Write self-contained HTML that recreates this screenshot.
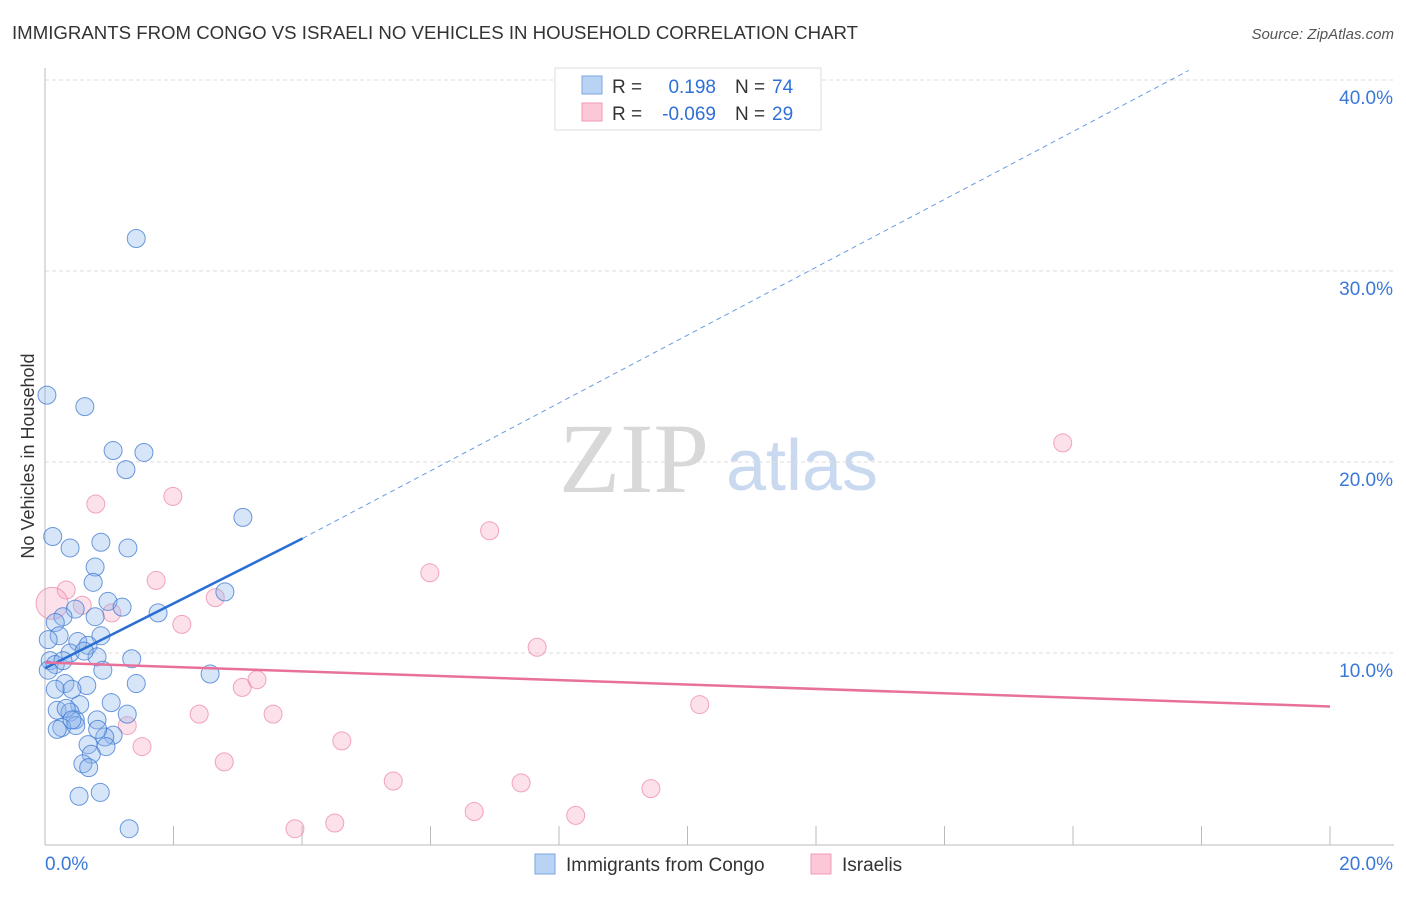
<!DOCTYPE html>
<html><head><meta charset="utf-8"><style>
body{margin:0;background:#fff;font-family:"Liberation Sans",sans-serif;}
</style></head><body>
<svg id="chart" width="1406" height="892" xmlns="http://www.w3.org/2000/svg" style="font-family:'Liberation Sans',sans-serif">
<text x="12" y="39" font-size="18" fill="#333" textLength="846" lengthAdjust="spacingAndGlyphs">IMMIGRANTS FROM CONGO VS ISRAELI NO VEHICLES IN HOUSEHOLD CORRELATION CHART</text>
<text x="1394" y="39" font-size="15" fill="#555" text-anchor="end" font-style="italic">Source: ZipAtlas.com</text>
<text transform="translate(34,456) rotate(-90)" font-size="18" fill="#333" text-anchor="middle">No Vehicles in Household</text>
<g>
<text x="634" y="492" font-size="100" fill="#d8d8d8" style="font-family:'Liberation Serif',serif" text-anchor="middle">ZIP</text>
<text x="802" y="490" font-size="72" fill="#c9d9ef" text-anchor="middle">atlas</text>
</g>
<g id="grid"></g><g id="axes"></g><g id="pink"></g><g id="blue"></g><g id="lines"></g>
<g>
<rect x="555" y="68" width="266" height="62" fill="#fff" stroke="#ddd"/>
<rect x="582" y="76" width="20" height="18" fill="#b9d3f5" stroke="#7aa7e0"/>
<rect x="582" y="103" width="20" height="18" fill="#fcc8d7" stroke="#f09ab5"/>
<text x="612" y="93" font-size="19" fill="#333">R =</text>
<text x="716" y="93" font-size="19" fill="#2f6fd6" text-anchor="end">0.198</text>
<text x="735" y="93" font-size="19" fill="#333">N =</text>
<text x="772" y="93" font-size="19" fill="#2f6fd6">74</text>
<text x="612" y="120" font-size="19" fill="#333">R =</text>
<text x="716" y="120" font-size="19" fill="#2f6fd6" text-anchor="end">-0.069</text>
<text x="735" y="120" font-size="19" fill="#333">N =</text>
<text x="772" y="120" font-size="19" fill="#2f6fd6">29</text>
</g>
<g>
<rect x="535" y="854" width="20" height="20" fill="#b9d3f5" stroke="#7aa7e0"/>
<text x="566" y="871" font-size="19" fill="#333">Immigrants from Congo</text>
<rect x="811" y="854" width="20" height="20" fill="#fcc8d7" stroke="#f09ab5"/>
<text x="842" y="871" font-size="19" fill="#333">Israelis</text>
</g>
</svg>
<script>
const xTicks=[0,2,4,6,8,10,12,14,16,18,20];
const yTicks=[10,20,30,40];
const yTickLabels=["10.0%","20.0%","30.0%","40.0%"];
const blueX=[1.42,0.03,0.62,1.06,1.54,1.26,3.08,0.12,0.39,0.87,1.29,0.78,0.75,2.80,0.98,1.20,0.47,1.76,0.28,0.78,0.16,0.22,0.87,0.51,0.67,0.39,0.81,1.35,0.08,0.16,2.57,0.90,1.42,0.31,0.65,0.16,0.54,1.03,1.28,0.19,0.39,0.81,0.47,0.26,1.06,0.93,0.67,0.95,0.72,0.59,0.68,0.53,0.86,1.31,0.19,0.48,0.33,0.42,0.05,0.05,0.61,0.82,0.28,0.42];
const blueY=[31.7,23.5,22.9,20.6,20.5,19.6,17.1,16.1,15.5,15.8,15.5,14.5,13.7,13.2,12.7,12.4,12.3,12.1,11.9,11.9,11.6,10.9,10.9,10.6,10.4,10.0,9.8,9.7,9.6,9.4,8.9,9.1,8.4,8.4,8.3,8.1,7.3,7.4,6.8,7.0,6.9,6.5,6.5,6.1,5.7,5.6,5.2,5.1,4.7,4.2,4.0,2.5,2.7,0.8,6.0,6.2,7.1,8.1,9.1,10.7,10.1,6.0,9.6,6.5];
const pinkX=[15.84,6.92,1.99,0.79,5.99,1.73,0.33,2.65,1.04,0.58,2.13,7.66,0.11,3.07,3.30,10.19,2.40,3.55,1.28,1.51,4.62,2.79,5.42,7.41,9.43,6.68,8.26,4.51,3.89];
const pinkY=[21.0,16.4,18.2,17.8,14.2,13.8,13.3,12.9,12.1,12.5,11.5,10.3,12.6,8.2,8.6,7.3,6.8,6.8,6.2,5.1,5.4,4.3,3.3,3.2,2.9,1.7,1.5,1.1,0.8];
const pinkR=[9,9,9,9,9,9,9,9,9,9,9,9,16,9,9,9,9,9,9,9,9,9,9,9,9,9,9,9,9];
const blueLine=[0,9.2,4.01,16.0,17.8,40.5];
const pinkLine=[0,9.5,20,7.2];
const NS="http://www.w3.org/2000/svg";
const xs=v=>45+v*64.25, ys=v=>844-v*19.1;
function mk(t,a,p){const e=document.createElementNS(NS,t);for(const k in a)e.setAttribute(k,a[k]);p.appendChild(e);return e;}
const grid=document.getElementById('grid'),axes=document.getElementById('axes');
yTicks.forEach((t,i)=>{
 const l=mk('line',{x1:45,x2:1394,y1:ys(t),y2:ys(t),stroke:'#ddd','stroke-dasharray':'4,3'},grid);
 
 
 const tx=mk('text',{x:1393,y:ys(t)+24,'font-size':19,fill:'#3a78d8','text-anchor':'end'},axes);tx.textContent=yTickLabels[i];
 
 
});
const ax=mk('line',{x1:45,x2:45,y1:68,y2:845,stroke:'#bbb'},axes);


const bx=mk('line',{x1:45,x2:1394,y1:845,y2:845,stroke:'#bbb'},axes);


xTicks.forEach(t=>{const l=mk('line',{x1:xs(t),x2:xs(t),y1:826,y2:845,stroke:'#bbb'},axes);
 
 });
let t0=mk('text',{x:45,y:870,'font-size':19,fill:'#3a78d8'},axes);t0.textContent='0.0%';


let t1=mk('text',{x:1393,y:870,'font-size':19,fill:'#3a78d8','text-anchor':'end'},axes);t1.textContent='20.0%';


const pg=document.getElementById('pink');
pinkX.forEach((x,i)=>{const c=mk('circle',{cx:xs(x),cy:ys(pinkY[i]),r:pinkR[i],fill:'rgba(248,170,195,0.35)',stroke:'rgba(235,130,165,0.7)','stroke-width':1},pg);
 
 });
const bg=document.getElementById('blue');
blueX.forEach((x,i)=>{const c=mk('circle',{cx:xs(x),cy:ys(blueY[i]),r:9,fill:'rgba(140,180,235,0.35)',stroke:'rgba(60,120,210,0.75)','stroke-width':1},bg);
 
 });
const lg=document.getElementById('lines');
const b1=mk('line',{x1:xs(blueLine[0]),y1:ys(blueLine[1]),x2:xs(blueLine[2]),y2:ys(blueLine[3]),stroke:'#2a6fd6','stroke-width':2.5},lg);


const b2=mk('line',{x1:xs(blueLine[2]),y1:ys(blueLine[3]),x2:xs(blueLine[4]),y2:ys(blueLine[5]),stroke:'#6a9be0','stroke-width':1,'stroke-dasharray':'5,4'},lg);


const p1=mk('line',{x1:xs(pinkLine[0]),y1:ys(pinkLine[1]),x2:xs(pinkLine[2]),y2:ys(pinkLine[3]),stroke:'#e8719a','stroke-width':2.5},lg);


</script>
</body></html>
